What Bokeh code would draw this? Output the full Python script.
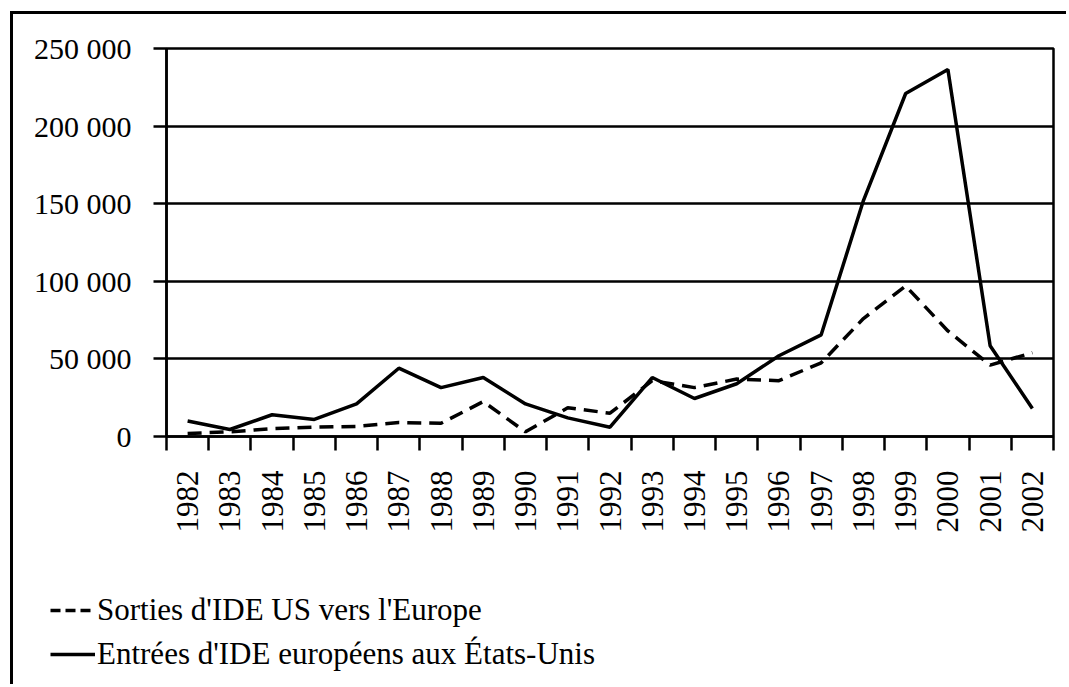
import math
from bokeh.plotting import figure
from bokeh.models import FixedTicker, Range1d, Legend, LegendItem, BasicTickFormatter
from bokeh.embed import file_html
from bokeh.resources import INLINE

years = list(range(1982, 2003))
entrees = [10000, 4500, 14000, 11000, 21000, 44000, 31500, 38000, 21000, 12000, 6000,
           38000, 24500, 34000, 52000, 65500, 152000, 221000, 236500, 58500, 18000]
sorties = [2000, 3000, 5000, 6000, 6500, 9000, 8500, 22500, 3000, 18500, 15000,
           36000, 31500, 37000, 36000, 47500, 76000, 97000, 68000, 46000, 54000]
y_ticks = [0, 50000, 100000, 150000, 200000, 250000]
label_sortie = "Sorties d'IDE US vers l'Europe"
label_entree = "Entrées d'IDE européens aux États-Unis"

FONT = "Liberation Serif"
W = 1056

p = figure(width=W, height=561, output_backend="svg", toolbar_location=None,
           x_range=Range1d(years[0] - 0.5, years[-1] + 0.5),
           y_range=Range1d(0, 250000),
           min_border_left=153, min_border_top=34, min_border_right=16, min_border_bottom=139)
p.styles = {"border-left": "3px solid black", "border-top": "3px solid black",
            "margin-left": "10px", "margin-top": "11px"}

p.outline_line_color = "black"
p.outline_line_width = 2.5
p.background_fill_color = "white"
p.border_fill_color = "white"

# x axis
p.xaxis.ticker = FixedTicker(ticks=years, minor_ticks=[y - 0.5 for y in years] + [years[-1] + 0.5])
p.xaxis.formatter = BasicTickFormatter(use_scientific=False)
p.xaxis.major_label_orientation = math.pi / 2
p.xaxis.major_tick_out = 0
p.xaxis.major_tick_in = 0
p.xaxis.minor_tick_out = 14
p.xaxis.minor_tick_in = 0
p.xaxis.minor_tick_line_color = "black"
p.xaxis.minor_tick_line_width = 2.5
p.xaxis.axis_line_width = 2.5
p.xaxis.axis_line_color = "black"
p.xaxis.major_label_standoff = 20
p.xaxis.major_label_text_font = FONT
p.xaxis.major_label_text_font_size = "31px"
p.xaxis.major_label_text_color = "black"

# y axis
p.yaxis.ticker = FixedTicker(ticks=y_ticks)
p.yaxis.major_label_overrides = {t: f"{t:,}".replace(",", " ") for t in y_ticks}
p.yaxis.major_tick_out = 13
p.yaxis.major_tick_in = 0
p.yaxis.minor_tick_out = 0
p.yaxis.minor_tick_in = 0
p.yaxis.major_tick_line_width = 2.5
p.yaxis.major_tick_line_color = "black"
p.yaxis.axis_line_width = 2.5
p.yaxis.axis_line_color = "black"
p.yaxis.major_label_standoff = 22
p.yaxis.major_label_text_font = FONT
p.yaxis.major_label_text_font_size = "30px"
p.yaxis.major_label_text_color = "black"

p.xgrid.grid_line_color = None
p.ygrid.grid_line_color = "black"
p.ygrid.grid_line_width = 2.5
p.ygrid.grid_line_alpha = 1.0

p.line(years, sorties, line_color="black", line_width=3.5, line_dash="14 8")
p.line(years, entrees, line_color="black", line_width=3.5)

# legend panel (separate root, so its frame is not aligned with the chart's)
p2 = figure(width=W, height=112, output_backend="svg", toolbar_location=None,
            x_range=Range1d(0, 1), y_range=Range1d(0, 1),
            x_axis_type=None, y_axis_type=None,
            min_border_left=0, min_border_right=0, min_border_top=0, min_border_bottom=0)
p2.styles = {"border-left": "3px solid black", "margin-left": "10px"}
p2.outline_line_color = None
p2.grid.grid_line_color = None
p2.background_fill_color = "white"
p2.border_fill_color = "white"
l_s = p2.line([5, 6], [5, 6], line_color="black", line_width=3.5, line_dash="10 5")
l_e = p2.line([5, 6], [5, 6], line_color="black", line_width=3.5)

legend = Legend(items=[LegendItem(label=label_sortie, renderers=[l_s]),
                       LegendItem(label=label_entree, renderers=[l_e])],
                location=(37, 12))
legend.border_line_color = None
legend.background_fill_alpha = 0
legend.label_text_font = FONT
legend.label_text_font_size = "31px"
legend.label_text_color = "black"
legend.glyph_width = 45
legend.glyph_height = 30
legend.label_height = 30
legend.spacing = 8
legend.label_standoff = 2
legend.padding = 0
legend.margin = 0
p2.add_layout(legend, "center")

open("out.html", "w").write(file_html([p, p2], INLINE))
